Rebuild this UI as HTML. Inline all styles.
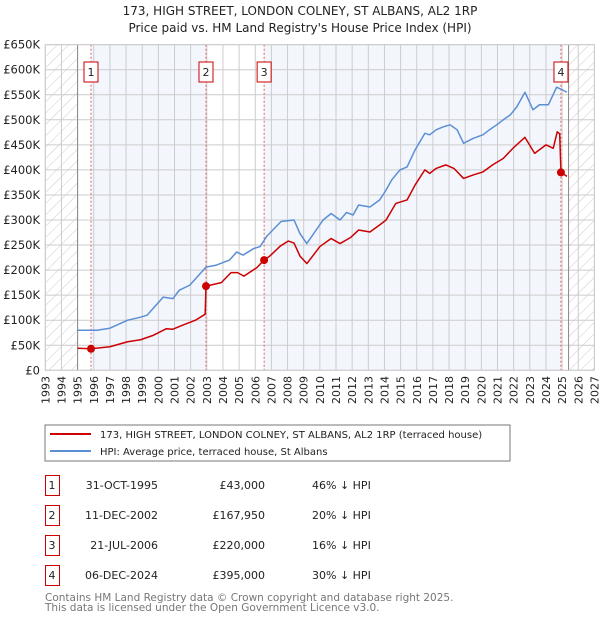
<!DOCTYPE html>
<html><head><meta charset="utf-8"><style>
body{margin:0;width:600px;height:620px;background:#fff;font-family:"DejaVu Sans","Liberation Sans",sans-serif;overflow:hidden}
svg text{font-family:"DejaVu Sans","Liberation Sans",sans-serif}
</style></head><body>
<svg id="c" width="600" height="620" xmlns="http://www.w3.org/2000/svg">
<defs><pattern id="hatch" width="8" height="8" patternUnits="userSpaceOnUse" patternTransform="rotate(45)"><line x1="0" y1="0" x2="0" y2="8" stroke="#ccc" stroke-width="1"/></pattern></defs>
<text x="300" y="15" text-anchor="middle" font-size="12" fill="#222">173, HIGH STREET, LONDON COLNEY, ST ALBANS, AL2 1RP</text>
<text x="300" y="32" text-anchor="middle" font-size="12" fill="#222">Price paid vs. HM Land Registry's House Price Index (HPI)</text>
<g id="plot"></g>
<rect x="45" y="425" width="465" height="36" fill="#fff" stroke="#777"/>
<line x1="50" y1="434" x2="91" y2="434" stroke="#cc0000" stroke-width="2"/>
<text x="100" y="438" font-size="10" fill="#222">173, HIGH STREET, LONDON COLNEY, ST ALBANS, AL2 1RP (terraced house)</text>
<line x1="50" y1="451" x2="91" y2="451" stroke="#5b8fd4" stroke-width="2"/>
<text x="100" y="455" font-size="10" fill="#222">HPI: Average price, terraced house, St Albans</text>
<g id="tbl"></g>
<text x="45" y="601" font-size="10.5" fill="#777">Contains HM Land Registry data © Crown copyright and database right 2025.</text>
<text x="45" y="611" font-size="10.5" fill="#777">This data is licensed under the Open Government Licence v3.0.</text>
</svg>
<script>
const yTicks=[0,50,100,150,200,250,300,350,400,450,500,550,600,650];
const yTickLabels=["£0","£50K","£100K","£150K","£200K","£250K","£300K","£350K","£400K","£450K","£500K","£550K","£600K","£650K"];
const years=[1993,1994,1995,1996,1997,1998,1999,2000,2001,2002,2003,2004,2005,2006,2007,2008,2009,2010,2011,2012,2013,2014,2015,2016,2017,2018,2019,2020,2021,2022,2023,2024,2025,2026,2027];
const hpiT=[1995.0,1996.2,1997.0,1998.1,1998.9,1999.3,2000.3,2000.9,2001.3,2001.95,2002.95,2003.6,2004.4,2004.85,2005.25,2005.9,2006.3,2006.7,2007.3,2007.6,2008.4,2008.77,2009.19,2010.2,2010.7,2011.25,2011.65,2012.06,2012.4,2013.1,2013.7,2014.03,2014.45,2014.96,2015.4,2015.9,2016.5,2016.8,2017.2,2017.65,2018.06,2018.5,2018.9,2019.5,2020.1,2020.5,2020.95,2021.36,2021.8,2022.2,2022.7,2023.2,2023.6,2024.15,2024.66,2025.0,2025.3];
const hpiV=[80,80,84,100,106,110,146,143,160,170,206,210,220,236,230,243,247,267,287,297,300,273,253,300,313,300,315,310,330,326,340,356,380,400,406,440,473,470,480,486,490,480,453,463,470,480,490,500,510,526,555,520,530,530,565,560,555];
const ppT=[1995.0,1995.83,1997.0,1998.1,1998.9,1999.7,2000.5,2000.9,2001.5,2002.3,2002.9,2002.95,2003.9,2004.5,2004.9,2005.3,2006.1,2006.55,2006.9,2007.55,2008.05,2008.4,2008.77,2009.2,2010.0,2010.7,2011.25,2011.9,2012.4,2013.1,2013.7,2014.1,2014.7,2015.4,2015.9,2016.5,2016.8,2017.2,2017.8,2018.3,2018.9,2019.5,2020.1,2020.7,2021.36,2021.95,2022.7,2023.3,2024.0,2024.45,2024.7,2024.85,2024.93,2025.3];
const ppV=[44,43,47,57,61,70,83,82,90,100,112,168,175,195,195,188,205,220,228,248,258,254,228,213,247,263,253,265,280,276,290,300,333,340,370,400,393,403,410,403,383,390,396,410,423,443,465,433,450,443,476,472,395,387];
const saleT=[1995.83,2002.95,2006.55,2024.93];
const saleV=[43,167.95,220,395];
const saleLabels=["1","2","3","4"];
const saleDates=["31-OCT-1995","11-DEC-2002","21-JUL-2006","06-DEC-2024"];
const salePrices=["£43,000","£167,950","£220,000","£395,000"];
const saleDiffs=["46% ↓ HPI","20% ↓ HPI","16% ↓ HPI","30% ↓ HPI"];

const X0=45.3,XS=16.15,Y0=370.3,YS=0.501,TOP=44.7,RIGHT=X0+34*XS;
const sx=t=>X0+(t-1993)*XS, sy=v=>Y0-v*YS;
const NS="http://www.w3.org/2000/svg";
const g=document.getElementById('plot');
function mk(tag,attrs,parent){const e=document.createElementNS(NS,tag);for(const k in attrs)e.setAttribute(k,attrs[k]);(parent||g).appendChild(e);return e;}
// shaded regions
let r;
r=mk('rect',{x:sx(1993),y:TOP,width:sx(1995)-sx(1993),height:Y0-TOP,fill:'url(#hatch)'});


r=mk('rect',{x:sx(2025.4),y:TOP,width:RIGHT-sx(2025.4),height:Y0-TOP,fill:'url(#hatch)'});


for(const [a,b] of [[0,1],[2,3]]){
 r=mk('rect',{x:sx(saleT[a]),y:TOP,width:sx(saleT[b])-sx(saleT[a]),height:Y0-TOP,fill:'#f3f6fd'});
 
 
}
// grid
years.forEach(y=>{const l=mk('line',{x1:sx(y),x2:sx(y),y1:TOP,y2:Y0,stroke:'#ccc','stroke-width':1});
 
 
 const t=mk('text',{x:0,y:0,'font-size':11,fill:'#222','text-anchor':'end',transform:`translate(${sx(y)+4},376) rotate(-90)`});
 t.textContent=y;
 
 
});
yTicks.forEach((v,i)=>{const l=mk('line',{x1:X0,x2:RIGHT,y1:sy(v),y2:sy(v),stroke:'#ccc','stroke-width':1});
 
 
 const t=mk('text',{x:40,y:sy(v)+4,'font-size':11.5,fill:'#222','text-anchor':'end'});
 t.textContent=yTickLabels[i];
 
 
});
// data bounds lines
[1995,2025.4].forEach(t=>{const l=mk('line',{x1:sx(t),x2:sx(t),y1:TOP,y2:Y0,stroke:'#888','stroke-width':1});
 
 });
// sale vlines
saleT.forEach(t=>{const l=mk('line',{x1:sx(t),x2:sx(t),y1:TOP,y2:Y0,stroke:'#e06060','stroke-width':1,'stroke-dasharray':'2,2'});
 
 });
r=mk('rect',{x:X0,y:TOP,width:RIGHT-X0,height:Y0-TOP,fill:'none',stroke:'#ccc'});


function line(T,V,col,name){const p=mk('polyline',{points:T.map((t,i)=>sx(t)+','+sy(V[i])).join(' '),fill:'none',stroke:col,'stroke-width':1.5,'stroke-linejoin':'round'});
 
 }
line(hpiT,hpiV,'#5b8fd4','hpi-line');
line(ppT,ppV,'#cc0000','property-price-line');
saleT.forEach((t,i)=>{const c=mk('circle',{cx:sx(t),cy:sy(saleV[i]),r:4,fill:'#cc0000'});
 
 
 const b=mk('rect',{x:sx(t)-7,y:62,width:14,height:20,fill:'#fff',stroke:'#cc0000'});
 
 
 const tx=mk('text',{x:sx(t),y:76,'font-size':11,fill:'#222','text-anchor':'middle'});
 tx.textContent=saleLabels[i];
 
 
});
// table
const tb=document.getElementById('tbl');
saleLabels.forEach((s,i)=>{const y=475+i*30;
 const b=mk('rect',{x:45.5,y:y+0.5,width:14,height:20,fill:'#fff',stroke:'#cc0000'},tb);
 
 
 const cells=[[52,s,'middle'],[158,saleDates[i],'end'],[265,salePrices[i],'end'],[312,saleDiffs[i],'start']];
 cells.forEach(([x,txt,a],j)=>{const t=mk('text',{x:x,y:y+14,'font-size':11,fill:'#222','text-anchor':a},tb);
  t.textContent=txt;
  
  });
});
</script>
</body></html>
